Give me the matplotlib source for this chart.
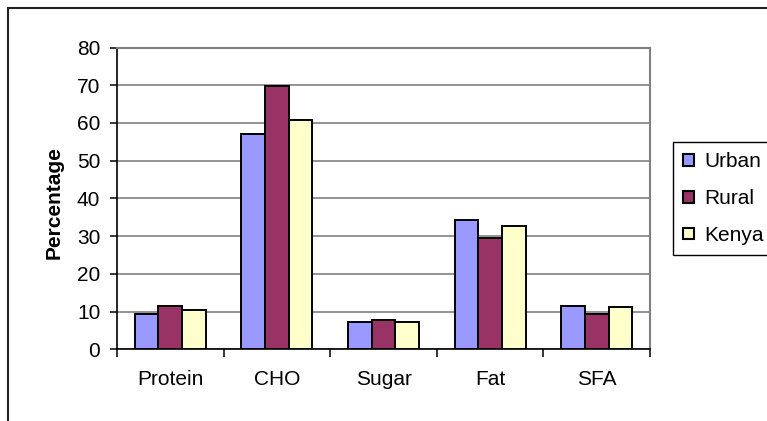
import numpy as np
import matplotlib.pyplot as plt
from matplotlib.patches import Rectangle

plt.rcParams["font.family"] = ["Liberation Sans", "DejaVu Sans"]

nutrients = ["Protein", "CHO", "Sugar", "Fat", "SFA"]
urban = [9.4, 57.2, 7.3, 34.3, 11.6]
rural = [11.5, 69.8, 7.8, 29.6, 9.4]
kenya = [10.4, 60.8, 7.3, 32.7, 11.1]

series = [("Urban", urban, "#9999FF"),
          ("Rural", rural, "#993366"),
          ("Kenya", kenya, "#FFFFCC")]

W, H = 767, 421
fig = plt.figure(figsize=(W / 100, H / 100), dpi=100)
ax = fig.add_axes([117 / W, 1 - 349.3 / H, 533 / W, (349.3 - 47.5) / H])

x = np.arange(len(nutrients))
width = 1 / 4.5
for i, (name, vals, col) in enumerate(series):
    ax.bar(x + (i - 1) * width, vals, width, color=col, edgecolor="black",
           linewidth=1.4, label=name, zorder=3)

ax.set_xlim(-0.5, len(nutrients) - 0.5)
ax.set_ylim(0, 80)
ax.set_yticks(np.arange(0, 81, 10))
ax.yaxis.grid(True, color="#808080", linewidth=1.2, zorder=0)
ax.set_axisbelow(True)

ax.set_xticks(x)
ax.set_xticklabels(nutrients)
ax.set_xticks(np.arange(-0.5, len(nutrients), 1), minor=True)
ax.tick_params(axis="x", which="major", length=0, pad=15, labelsize=15)
ax.tick_params(axis="x", which="minor", length=6, width=1.1, direction="out")
ax.tick_params(axis="y", length=5, width=1.1, direction="out", pad=7,
               labelsize=15)

for side in ["top", "right"]:
    ax.spines[side].set_color("#808080")
    ax.spines[side].set_linewidth(1.5)
for side in ["left", "bottom"]:
    ax.spines[side].set_color("black")
    ax.spines[side].set_linewidth(1.2)

ax.set_ylabel("Percentage", fontsize=15, fontweight="bold")
ax.yaxis.set_label_coords(-0.101, 0.487)

leg = fig.legend(loc="upper left", bbox_to_anchor=(673 / W, 1 - 142 / H),
                 borderaxespad=0, fancybox=False, edgecolor="black",
                 fontsize=15, handlelength=0.5, handleheight=0.5,
                 handletextpad=0.5, labelspacing=0.85, borderpad=0.5,
                 framealpha=1)
leg.get_frame().set_linewidth(1.0)
for h in leg.legend_handles:
    h.set_linewidth(1.5)

# outer chart frame, open at the right and bottom edges
fig.patches.append(Rectangle((8 / W, -0.2), 1.2, 1.2 - 7.5 / H,
                             transform=fig.transFigure, fill=False,
                             edgecolor="#222222", linewidth=1.5))

fig.savefig("out.png", dpi=100)
